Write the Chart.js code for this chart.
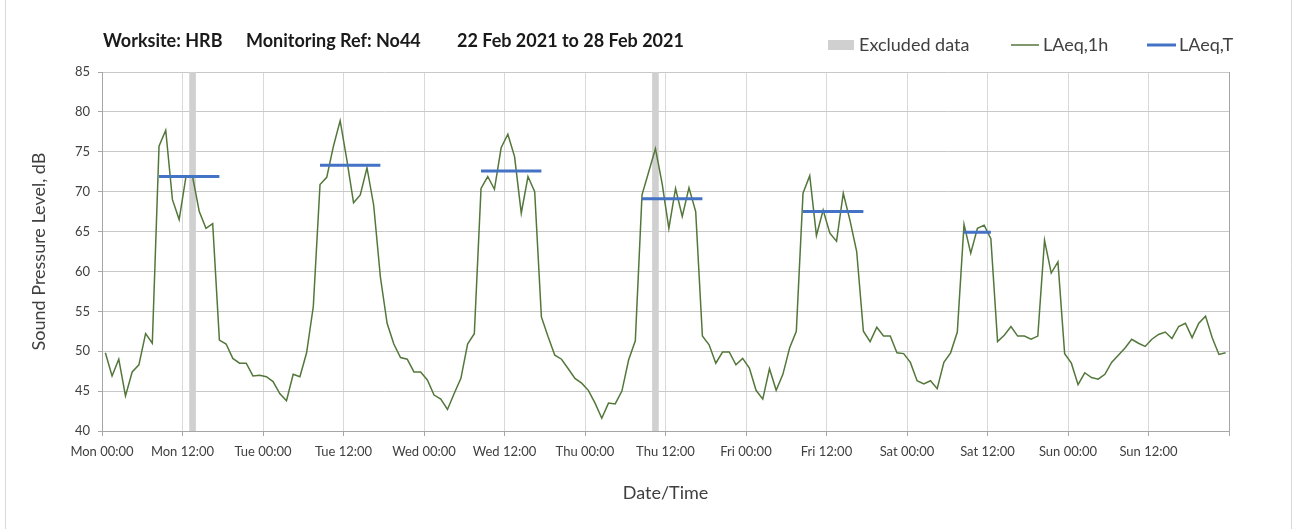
<!DOCTYPE html>
<html>
<head>
<meta charset="utf-8">
<script src="https://cdn.jsdelivr.net/npm/chart.js@4.4.1/dist/chart.umd.min.js"></script>
<style>
  html, body { margin: 0; padding: 0; background: #fff; }
  canvas { display: block; }
</style>
</head>
<body>
<canvas id="noiseChart" width="1301" height="529"></canvas>
<script>
// hourly LAeq,1h values, Mon 00:00 .. Sun 23:00
const laeq1h = [
  49.8, 46.9, 49.0, 44.4, 47.4, 48.3, 52.2, 51.0, 75.7, 77.7, 69.0, 66.5, 71.8, 71.9, 67.5, 65.4, 66.0, 51.4, 50.9, 49.1, 48.5, 48.5, 46.9, 47.0,
  46.8, 46.2, 44.7, 43.8, 47.1, 46.8, 49.8, 55.6, 70.9, 71.8, 75.7, 78.9, 74.0, 68.6, 69.6, 73.0, 68.3, 59.3, 53.5, 50.9, 49.2, 49.0, 47.4, 47.4,
  46.4, 44.5, 44.0, 42.7, 44.7, 46.6, 50.9, 52.2, 70.4, 71.9, 70.3, 75.5, 77.2, 74.4, 67.3, 71.9, 70.0, 54.3, 51.8, 49.5, 49.0, 47.8, 46.6, 46.0,
  45.1, 43.5, 41.6, 43.5, 43.4, 45.0, 48.9, 51.3, 69.6, 72.5, 75.4, 71.0, 65.4, 70.4, 66.9, 70.5, 67.5, 51.9, 50.8, 48.5, 49.9, 49.9, 48.3, 49.1,
  47.9, 45.1, 44.0, 47.8, 45.1, 47.1, 50.4, 52.5, 69.8, 72.0, 64.5, 67.7, 64.8, 63.8, 69.8, 66.4, 62.5, 52.5, 51.2, 53.0, 51.9, 51.9, 49.8, 49.7,
  48.6, 46.3, 45.9, 46.3, 45.3, 48.6, 49.8, 52.4, 65.9, 62.3, 65.4, 65.8, 64.1, 51.2, 52.0, 53.1, 51.9, 51.9, 51.5, 51.9, 63.9, 59.8, 61.2, 49.7,
  48.5, 45.8, 47.3, 46.7, 46.5, 47.1, 48.6, 49.5, 50.4, 51.5, 51.0, 50.6, 51.5, 52.1, 52.4, 51.6, 53.1, 53.5, 51.7, 53.5, 54.4, 51.7, 49.6, 49.8
];

// LAeq,T periods (hours from Mon 00:00, hour centres)
const periodStart = [8.5, 32.5, 56.5, 80.5, 104.5, 128.5];
const periodEnd   = [17.5, 41.5, 65.5, 89.5, 113.5, 132.5];
const periodLevel = [71.9, 73.3, 72.6, 69.1, 67.5, 64.9];

// excluded hours
const excludedHours = [13.5, 82.5];

const xTickLabels = ['Mon 00:00', 'Mon 12:00', 'Tue 00:00', 'Tue 12:00', 'Wed 00:00', 'Wed 12:00',
  'Thu 00:00', 'Thu 12:00', 'Fri 00:00', 'Fri 12:00', 'Sat 00:00', 'Sat 12:00', 'Sun 00:00', 'Sun 12:00', ''];

const titleParts = ['Worksite: HRB', 'Monitoring Ref: No44', '22 Feb 2021 to 28 Feb 2021'];

const FONT = 'Lato, "Open Sans", sans-serif';
const TEXT = '#404040';

const lineData = laeq1h.map((v, i) => ({ x: i + 0.5, y: v }));
const periodData = [];
periodStart.forEach((s, i) => {
  periodData.push({ x: s, y: periodLevel[i] });
  periodData.push({ x: periodEnd[i], y: periodLevel[i] });
  periodData.push({ x: periodEnd[i] + 0.5, y: null });
});

const headerPlugin = {
  id: 'header',
  beforeDraw(chart) {
    const c = chart.ctx;
    c.save();
    c.fillStyle = '#fff';
    c.fillRect(0, 0, chart.width, chart.height);
    c.strokeStyle = '#d9d9d9';
    c.lineWidth = 1;
    c.beginPath();
    c.moveTo(5.5, 0); c.lineTo(5.5, chart.height);
    c.moveTo(1291.5, 0); c.lineTo(1291.5, chart.height);
    c.stroke();
    c.restore();
  },
  afterDraw(chart) {
    const c = chart.ctx;
    const ds = chart.data.datasets;
    c.save();
    // title
    c.fillStyle = '#1a1a1a';
    c.font = 'bold 18px ' + FONT;
    c.textBaseline = 'alphabetic';
    const titleX = [103, 246, 457];
    titleParts.forEach((t, i) => c.fillText(t, titleX[i], 47));

    // legend
    const ly = 45;
    c.font = '18px ' + FONT;
    c.textBaseline = 'middle';
    c.fillStyle = ds[0].backgroundColor;
    c.fillRect(828, ly - 5, 26, 10);
    c.fillStyle = TEXT;
    c.fillText(ds[0].label, 859, ly);

    c.strokeStyle = ds[1].borderColor;
    c.lineWidth = ds[1].borderWidth;
    c.beginPath(); c.moveTo(1011, ly); c.lineTo(1039, ly); c.stroke();
    c.fillText(ds[1].label, 1043, ly);

    c.strokeStyle = ds[2].borderColor;
    c.lineWidth = ds[2].borderWidth;
    c.beginPath(); c.moveTo(1147, ly); c.lineTo(1176, ly); c.stroke();
    c.fillText(ds[2].label, 1179, ly);
    c.restore();
  }
};

new Chart(document.getElementById('noiseChart').getContext('2d'), {
  type: 'line',
  data: {
    datasets: [
      {
        type: 'bar',
        label: 'Excluded data',
        data: excludedHours.map(h => ({ x: h, y: [40, 85] })),
        backgroundColor: '#d0d0d0',
        barThickness: 6,
        order: 3
      },
      {
        label: 'LAeq,1h',
        data: lineData,
        borderColor: '#53773a',
        borderWidth: 1.5,
        pointRadius: 0,
        tension: 0,
        order: 2
      },
      {
        label: 'LAeq,T',
        data: periodData,
        borderColor: '#4472c4',
        borderWidth: 3,
        pointRadius: 0,
        spanGaps: false,
        order: 1
      }
    ]
  },
  options: {
    responsive: false,
    animation: false,
    layout: { padding: { left: 0, right: 72, top: 72, bottom: 0 } },
    plugins: {
      legend: { display: false },
      tooltip: { enabled: false }
    },
    scales: {
      x: {
        type: 'linear',
        min: 0,
        max: 168,
        offset: false,
        ticks: {
          stepSize: 12,
          autoSkip: false,
          maxRotation: 0,
          padding: 8,
          color: TEXT,
          font: { family: FONT, size: 13 },
          callback: (v) => xTickLabels[Math.round(v / 12)] || ''
        },
        grid: {
          offset: false,
          color: (ctx) => (ctx.tick && ctx.tick.value === 168 ? '#a6a6a6' : '#d9d9d9'),
          tickColor: '#a6a6a6',
          tickLength: 5
        },
        border: { color: '#a6a6a6' },
        title: {
          display: true,
          text: 'Date/Time',
          color: TEXT,
          font: { family: FONT, size: 18 },
          padding: { top: 0, bottom: 25 }
        },
        afterFit(scale) { scale.height = 98; }
      },
      y: {
        min: 40,
        max: 85,
        ticks: {
          stepSize: 5,
          padding: 8,
          color: TEXT,
          font: { family: FONT, size: 13 }
        },
        grid: {
          color: '#c8c8c8',
          tickColor: '#a6a6a6',
          tickLength: 4
        },
        border: { color: '#a6a6a6' },
        title: {
          display: true,
          text: 'Sound Pressure Level, dB',
          color: TEXT,
          font: { family: FONT, size: 18 },
          padding: { top: 28, bottom: 0 }
        },
        afterFit(scale) { scale.width = 102; }
      }
    }
  },
  plugins: [headerPlugin]
});
</script>
</body>
</html>
